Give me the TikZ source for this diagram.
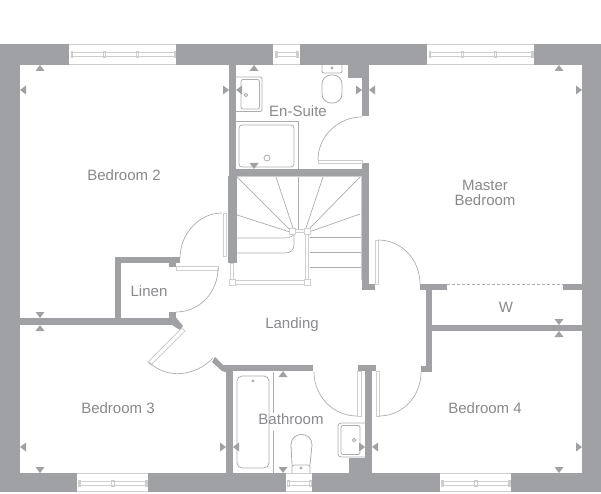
\documentclass[tikz,border=0pt]{standalone}
\usepackage{fontspec}
\setmainfont{Liberation Sans}
\definecolor{wallgrey}{RGB}{160,161,165}
\definecolor{fitgrey}{RGB}{172,173,176}
\definecolor{glassgrey}{RGB}{205,206,208}
\tikzset{
wall/.style={fill=wallgrey},
fitting/.style={draw=fitgrey,line width=0.8pt},
thinline/.style={draw=fitgrey,line width=0.7pt},
glass/.style={draw=glassgrey,line width=1pt},
leaf/.style={draw=glassgrey,fill=white,line width=0.8pt},
roomlabel/.style={text=wallgrey!85!black,font=\fontsize{15}{15}\selectfont,align=center,inner sep=0pt}
}

\begin{document}
\begin{tikzpicture}[x=1pt,y=-1pt]
\useasboundingbox (0,0) rectangle (601,494);

% outer walls
\fill[wall] (0,44) rectangle (601,65);
\fill[wall] (0,44) rectangle (20,492);
\fill[wall] (582,44) rectangle (601,492);
\fill[wall] (0,473) rectangle (601,492);

% windows
\fill[white] (69,44) rectangle (176,65);
\draw[glass] (69,44.5) -- (176,44.5);
\draw[glass] (69,64.5) -- (176,64.5);
\draw[glass] (71,53) rectangle (174,57);
\draw[glass] (71,52) rectangle (72,58);
\draw[glass] (103,52) rectangle (105,58);
\draw[glass] (136,52) rectangle (138,58);
\draw[glass] (174,52) rectangle (175,58);

\fill[white] (273,44) rectangle (300,65);
\draw[glass] (273,44.5) -- (300,44.5);
\draw[glass] (273,64.5) -- (300,64.5);
\draw[glass] (276,53) rectangle (297,57);
\draw[glass] (275,52) rectangle (277,58);
\draw[glass] (296,52) rectangle (298,58);

\fill[white] (427,44) rectangle (534,65);
\draw[glass] (427,44.5) -- (534,44.5);
\draw[glass] (427,64.5) -- (534,64.5);
\draw[glass] (429,53) rectangle (532,57);
\draw[glass] (429,52) rectangle (430,58);
\draw[glass] (461,52) rectangle (463,58);
\draw[glass] (494,52) rectangle (496,58);
\draw[glass] (531,52) rectangle (533,58);

\fill[white] (77,473) rectangle (148,492);
\draw[glass] (77,473.5) -- (148,473.5);
\draw[glass] (77,491.5) -- (148,491.5);
\draw[glass] (79,481) rectangle (146,485);
\draw[glass] (78,480) rectangle (80,486);
\draw[glass] (111,480) rectangle (114,486);
\draw[glass] (145,480) rectangle (147,486);

\fill[white] (286,473) rectangle (312,492);
\draw[glass] (286,473.5) -- (312,473.5);
\draw[glass] (286,491.5) -- (312,491.5);
\draw[glass] (287,481) rectangle (311,485);
\draw[glass] (287,480) rectangle (289,486);
\draw[glass] (309,480) rectangle (311,486);

\fill[white] (440,473) rectangle (511,492);
\draw[glass] (440,473.5) -- (511,473.5);
\draw[glass] (440,491.5) -- (511,491.5);
\draw[glass] (442,481) rectangle (509,485);
\draw[glass] (441,480) rectangle (443,486);
\draw[glass] (474,480) rectangle (477,486);
\draw[glass] (508,480) rectangle (510,486);

% inner walls
\fill[wall] (229,65) rectangle (236,170);
\fill[wall] (229,169) rectangle (369,176);
\fill[wall] (228,176) rectangle (237,263);
\fill[wall] (362,65) rectangle (369,116);
\fill[wall] (348,65) rectangle (369,78);
\fill[wall] (362,163) rectangle (369,290);
\fill[wall] (362,284) rectangle (375,290);
\fill[wall] (115,257) rectangle (180,263);
\fill[wall] (115,257) rectangle (121,325);
\fill[wall] (20,318) rectangle (176,325);
\fill[wall] (169,263) rectangle (176,267);
\fill[wall] (169,312) rectangle (176,318);
\fill[wall] (174,315) -- (183,326) -- (180,330) -- (172,325) -- cycle;
\fill[wall] (215,357) -- (223,365) -- (229,365) -- (229,373) -- (222,371) -- (212,362) -- cycle;
\fill[wall] (222,365) rectangle (313,371);
\fill[wall] (226,365) rectangle (233,473);
\fill[wall] (358,365) rectangle (376,371);
\fill[wall] (365,365) rectangle (372,473);
\fill[wall] (349,458) rectangle (365,473);
\fill[wall] (420,284) rectangle (447,290);
\fill[wall] (426,284) rectangle (432,372);
\fill[wall] (421,366) rectangle (432,372);
\fill[wall] (563,284) rectangle (582,290);
\fill[wall] (432,325) rectangle (582,331);
\draw[thinline,densely dashed] (447,284.5) -- (563,284.5);

% doors
\draw[leaf] (318,160) rectangle (362,163);
\draw[thinline] (318,160) .. controls (318,136) and (338,117) .. (362,117);
\draw[leaf] (223,213) rectangle (226,256);
\draw[thinline] (222,213) .. controls (198,213) and (180,235) .. (180,258);
\draw[leaf] (176,266) rectangle (218,270);
\draw[thinline] (218,268) .. controls (218,292) and (200,312) .. (176,312);
\draw[leaf] (182,328) -- (185,331) -- (151,365) -- (148,362) -- cycle;
\draw[thinline] (149,362) .. controls (167,380) and (196,376) .. (213,358);
\draw[leaf] (357,371) rectangle (361,416);
\draw[thinline] (357,416) .. controls (333,416) and (314,396) .. (314,372);
\draw[leaf] (376,371) rectangle (379,416);
\draw[thinline] (379,416) .. controls (403,416) and (421,396) .. (421,372);
\draw[leaf] (375,240) rectangle (378,284);
\draw[thinline] (378,240) .. controls (402,240) and (420,260) .. (420,284);

% stairs
\draw[glass] (237,177) -- (361,177) -- (361,280);
\draw[thinline] (237,177) -- (290,230);
\draw[thinline] (276,177) -- (293,228);
\draw[thinline] (298,177) -- (298,229);
\draw[thinline] (323,177) -- (306,228);
\draw[thinline] (360,177) -- (309,229);
\draw[thinline] (237,215) -- (290,232);
\draw[thinline] (360,214) -- (309,232);
\draw[thinline] (310,237) -- (361,237);
\draw[thinline] (310,252) -- (361,252);
\draw[thinline] (310,267) -- (361,267);
\draw[thinline] (237,238) -- (285,238) .. controls (290,238) and (294,236) .. (294,233);
\draw[thinline] (237,253) -- (285,253) .. controls (291,253) and (294,250) .. (294,244) -- (294,233);
\draw[leaf] (295,229.5) rectangle (305,232.5);
\draw[leaf] (305.5,234) rectangle (308.5,280);
\draw[leaf] (235,280) rectangle (305,284);
\draw[leaf] (230.5,263) rectangle (233.5,280);
\draw[leaf] (289.5,228.5) rectangle (295,234);
\draw[leaf] (304.5,228.5) rectangle (310,234);
\draw[leaf] (229.5,279.5) rectangle (235,285);
\draw[leaf] (304.5,279.5) rectangle (310,285);

% en-suite fittings
\draw[fitting,rounded corners=2pt] (236,77) -- (262,77) -- (262,111.5) -- (236,111.5);
\draw[fitting,rounded corners=2pt] (241,79.5) -- (259.5,79.5) -- (259.5,109) -- (241,109) -- cycle;
\draw[fitting] (246,95) circle (1.7);
\draw[fitting,rounded corners=2pt] (322,65) -- (322,73) -- (342,73) -- (342,65);
\draw[fitting,rounded corners=9pt] (322,75) rectangle (342,103);
\draw[fitting] (332,68) circle (1);
\draw[thinline] (236,121) -- (298,121) -- (298,169);
\draw[fitting,rounded corners=3pt] (239,125) rectangle (294,167);
\draw[fitting] (267,158) circle (3);

% bathroom fittings
\draw[thinline] (273,372) -- (273,413);
\draw[thinline] (273,431) -- (273,473);
\draw[fitting,rounded corners=5pt] (237,376) rectangle (269,468);
\draw[fitting] (253,381) circle (1);
\draw[fitting] (292,465) -- (291,445) .. controls (291,431) and (312,431) .. (312,445) -- (310,465);
\draw[fitting,rounded corners=2pt] (292,473) -- (292,465) -- (310,465) -- (310,473);
\draw[fitting] (301,468) circle (1);
\draw[fitting,rounded corners=3pt] (365,423) -- (338,423) -- (338,457) -- (365,457);
\draw[fitting,rounded corners=2pt] (360,425.5) -- (341,425.5) -- (341,454.5) -- (360,454.5) -- cycle;
\draw[fitting] (354,440) circle (1.7);

% markers
\fill[wall] (40,65) -- ++(-4.5,6) -- ++(9,0) -- cycle;
\fill[wall] (254,65) -- ++(-4.5,6) -- ++(9,0) -- cycle;
\fill[wall] (559,65) -- ++(-4.5,6) -- ++(9,0) -- cycle;
\fill[wall] (40,325) -- ++(-4.5,6) -- ++(9,0) -- cycle;
\fill[wall] (559,331) -- ++(-4.5,6) -- ++(9,0) -- cycle;
\fill[wall] (283,371) -- ++(-4.5,6) -- ++(9,0) -- cycle;
\fill[wall] (40,318) -- ++(-4.5,-6) -- ++(9,0) -- cycle;
\fill[wall] (254,169) -- ++(-4.5,-6) -- ++(9,0) -- cycle;
\fill[wall] (559,325) -- ++(-4.5,-6) -- ++(9,0) -- cycle;
\fill[wall] (40,473) -- ++(-4.5,-6) -- ++(9,0) -- cycle;
\fill[wall] (283,473) -- ++(-4.5,-6) -- ++(9,0) -- cycle;
\fill[wall] (559,473) -- ++(-4.5,-6) -- ++(9,0) -- cycle;
\fill[wall] (20,90) -- ++(6,-4.5) -- ++(0,9) -- cycle;
\fill[wall] (236,90) -- ++(6,-4.5) -- ++(0,9) -- cycle;
\fill[wall] (369,90) -- ++(6,-4.5) -- ++(0,9) -- cycle;
\fill[wall] (20,447) -- ++(6,-4.5) -- ++(0,9) -- cycle;
\fill[wall] (233,447) -- ++(6,-4.5) -- ++(0,9) -- cycle;
\fill[wall] (372,447) -- ++(6,-4.5) -- ++(0,9) -- cycle;
\fill[wall] (229,90) -- ++(-6,-4.5) -- ++(0,9) -- cycle;
\fill[wall] (362,90) -- ++(-6,-4.5) -- ++(0,9) -- cycle;
\fill[wall] (582,90) -- ++(-6,-4.5) -- ++(0,9) -- cycle;
\fill[wall] (226,447) -- ++(-6,-4.5) -- ++(0,9) -- cycle;
\fill[wall] (365,447) -- ++(-6,-4.5) -- ++(0,9) -- cycle;
\fill[wall] (582,447) -- ++(-6,-4.5) -- ++(0,9) -- cycle;

% room names
\node[roomlabel] (bedtwo) at (124,175) {Bedroom 2};
\node[roomlabel] (ensuite) at (298,111) {En-Suite};
\node[roomlabel] (master) at (485,193) {Master\\Bedroom};
\node[roomlabel] (linen) at (149,291) {Linen};
\node[roomlabel] (robe) at (506,307) {W};
\node[roomlabel] (landing) at (292,325) {Landing};
\node[roomlabel] (bedthree) at (118,408) {Bedroom 3};
\node[roomlabel] (bathroom) at (291,419) {Bathroom};
\node[roomlabel] (bedfour) at (485,408) {Bedroom 4};
\end{tikzpicture}
\end{document}
